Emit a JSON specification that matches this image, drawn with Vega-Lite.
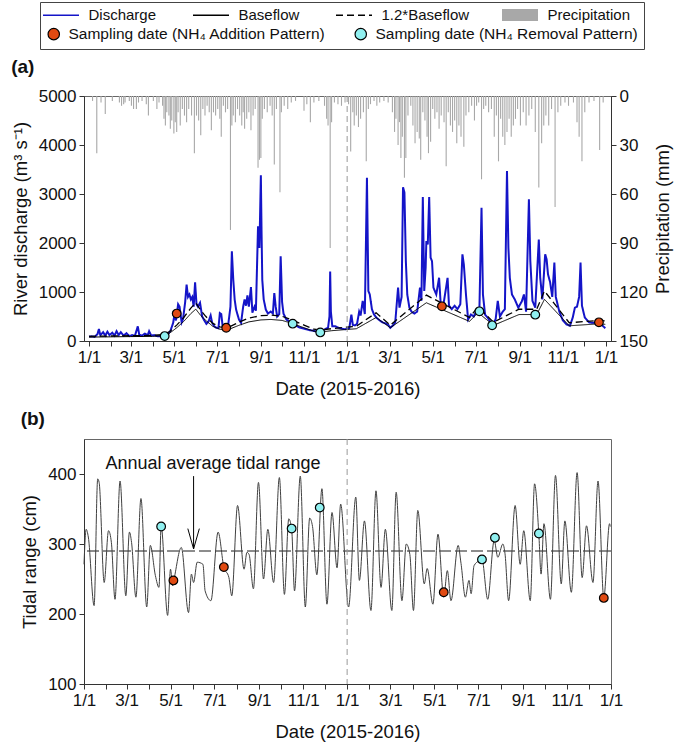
{
  "$schema": "https://vega.github.io/schema/vega-lite/v6.json",
  "padding": {"left": 10, "top": 1, "right": 5, "bottom": 5},
  "spacing": 11,
  "config": {
    "font": "Liberation Sans",
    "view": {"stroke": "#666", "strokeWidth": 1},
    "axis": {"labelFontSize": 17, "titleFontSize": 18.5, "labelColor": "#111", "titleColor": "#111", "domainColor": "#333", "tickColor": "#333", "tickSize": 5, "grid": false, "titleFontWeight": "normal", "labelPadding": 3},
    "title": {"fontSize": 19, "fontWeight": "bold", "color": "#111"}
  },
  "datasets": {
    "q": [
      {"d":"2015-01-01","q":90},{"d":"2015-01-05","q":95},{"d":"2015-01-09","q":85},{"d":"2015-01-13","q":140},{"d":"2015-01-15","q":245},{"d":"2015-01-17","q":120},{"d":"2015-01-21","q":180},{"d":"2015-01-24","q":110},{"d":"2015-01-27","q":190},{"d":"2015-01-30","q":120},
      {"d":"2015-02-03","q":170},{"d":"2015-02-06","q":110},{"d":"2015-02-09","q":200},{"d":"2015-02-12","q":120},{"d":"2015-02-15","q":180},{"d":"2015-02-19","q":110},{"d":"2015-02-23","q":160},{"d":"2015-02-27","q":100},
      {"d":"2015-03-03","q":120},{"d":"2015-03-07","q":110},{"d":"2015-03-11","q":300},{"d":"2015-03-13","q":130},{"d":"2015-03-17","q":110},{"d":"2015-03-21","q":150},{"d":"2015-03-25","q":120},{"d":"2015-03-27","q":200},{"d":"2015-03-30","q":110},
      {"d":"2015-04-03","q":120},{"d":"2015-04-07","q":100},{"d":"2015-04-11","q":95},{"d":"2015-04-15","q":90},{"d":"2015-04-18","q":100},{"d":"2015-04-22","q":130},{"d":"2015-04-26","q":200},{"d":"2015-04-30","q":370},
      {"d":"2015-05-02","q":550},{"d":"2015-05-04","q":420},{"d":"2015-05-07","q":750},{"d":"2015-05-09","q":700},{"d":"2015-05-12","q":380},{"d":"2015-05-14","q":450},{"d":"2015-05-17","q":800},{"d":"2015-05-19","q":1150},{"d":"2015-05-21","q":900},{"d":"2015-05-23","q":950},{"d":"2015-05-25","q":850},{"d":"2015-05-27","q":900},{"d":"2015-05-29","q":700},{"d":"2015-05-31","q":1200},
      {"d":"2015-06-02","q":750},{"d":"2015-06-04","q":700},{"d":"2015-06-07","q":780},{"d":"2015-06-10","q":500},{"d":"2015-06-13","q":420},{"d":"2015-06-16","q":350},{"d":"2015-06-19","q":400},{"d":"2015-06-22","q":520},{"d":"2015-06-24","q":380},{"d":"2015-06-27","q":300},{"d":"2015-06-30","q":270},
      {"d":"2015-07-03","q":260},{"d":"2015-07-05","q":570},{"d":"2015-07-07","q":550},{"d":"2015-07-09","q":300},{"d":"2015-07-12","q":260},{"d":"2015-07-14","q":270},{"d":"2015-07-17","q":350},{"d":"2015-07-20","q":700},{"d":"2015-07-22","q":1830},{"d":"2015-07-24","q":1250},{"d":"2015-07-26","q":840},{"d":"2015-07-28","q":640},
      {"d":"2015-08-01","q":440},{"d":"2015-08-04","q":370},{"d":"2015-08-07","q":700},{"d":"2015-08-09","q":850},{"d":"2015-08-11","q":720},{"d":"2015-08-13","q":930},{"d":"2015-08-15","q":700},{"d":"2015-08-18","q":1100},{"d":"2015-08-20","q":580},{"d":"2015-08-23","q":700},{"d":"2015-08-25","q":620},{"d":"2015-08-28","q":2340},{"d":"2015-08-30","q":1900},
      {"d":"2015-09-01","q":3380},{"d":"2015-09-02","q":2200},{"d":"2015-09-03","q":1250},{"d":"2015-09-05","q":850},{"d":"2015-09-08","q":640},{"d":"2015-09-11","q":560},{"d":"2015-09-15","q":600},{"d":"2015-09-18","q":560},{"d":"2015-09-20","q":980},{"d":"2015-09-22","q":700},{"d":"2015-09-24","q":500},{"d":"2015-09-27","q":550},{"d":"2015-09-29","q":1730},
      {"d":"2015-10-01","q":800},{"d":"2015-10-03","q":560},{"d":"2015-10-07","q":440},{"d":"2015-10-11","q":400},{"d":"2015-10-14","q":370},{"d":"2015-10-17","q":350},{"d":"2015-10-21","q":310},{"d":"2015-10-25","q":280},{"d":"2015-10-30","q":260},
      {"d":"2015-11-04","q":240},{"d":"2015-11-09","q":220},{"d":"2015-11-14","q":210},{"d":"2015-11-19","q":190},{"d":"2015-11-24","q":180},{"d":"2015-11-28","q":220},
      {"d":"2015-12-02","q":250},{"d":"2015-12-05","q":270},{"d":"2015-12-07","q":500},{"d":"2015-12-08","q":1420},{"d":"2015-12-09","q":600},{"d":"2015-12-11","q":300},{"d":"2015-12-15","q":300},{"d":"2015-12-20","q":270},{"d":"2015-12-25","q":250},{"d":"2015-12-29","q":240},
      {"d":"2016-01-01","q":250},{"d":"2016-01-04","q":260},{"d":"2016-01-07","q":540},{"d":"2016-01-09","q":330},{"d":"2016-01-12","q":320},{"d":"2016-01-15","q":350},{"d":"2016-01-18","q":600},{"d":"2016-01-20","q":520},{"d":"2016-01-23","q":820},{"d":"2016-01-26","q":550},{"d":"2016-01-29","q":3330},{"d":"2016-01-31","q":1020},
      {"d":"2016-02-02","q":950},{"d":"2016-02-05","q":650},{"d":"2016-02-08","q":540},{"d":"2016-02-12","q":470},{"d":"2016-02-16","q":420},{"d":"2016-02-20","q":380},{"d":"2016-02-24","q":360},{"d":"2016-02-28","q":330},
      {"d":"2016-03-02","q":270},{"d":"2016-03-06","q":320},{"d":"2016-03-09","q":380},{"d":"2016-03-13","q":1090},{"d":"2016-03-15","q":680},{"d":"2016-03-18","q":900},{"d":"2016-03-20","q":3140},{"d":"2016-03-22","q":3030},{"d":"2016-03-24","q":1630},{"d":"2016-03-26","q":950},{"d":"2016-03-29","q":680},
      {"d":"2016-04-01","q":600},{"d":"2016-04-05","q":560},{"d":"2016-04-09","q":600},{"d":"2016-04-13","q":1090},{"d":"2016-04-15","q":820},{"d":"2016-04-17","q":2940},{"d":"2016-04-19","q":1020},{"d":"2016-04-21","q":1500},{"d":"2016-04-22","q":2040},{"d":"2016-04-24","q":1970},{"d":"2016-04-26","q":2940},{"d":"2016-04-28","q":1700},{"d":"2016-04-30","q":1630},
      {"d":"2016-05-02","q":1090},{"d":"2016-05-06","q":950},{"d":"2016-05-10","q":1290},{"d":"2016-05-12","q":820},{"d":"2016-05-14","q":700},{"d":"2016-05-17","q":820},{"d":"2016-05-22","q":1290},{"d":"2016-05-24","q":720},{"d":"2016-05-28","q":650},
      {"d":"2016-06-01","q":720},{"d":"2016-06-05","q":650},{"d":"2016-06-09","q":750},{"d":"2016-06-12","q":1770},{"d":"2016-06-14","q":1560},{"d":"2016-06-17","q":950},{"d":"2016-06-20","q":440},{"d":"2016-06-24","q":540},{"d":"2016-06-28","q":500},
      {"d":"2016-07-02","q":620},{"d":"2016-07-06","q":650},{"d":"2016-07-09","q":2720},{"d":"2016-07-11","q":950},{"d":"2016-07-14","q":540},{"d":"2016-07-18","q":470},{"d":"2016-07-22","q":380},{"d":"2016-07-26","q":340},{"d":"2016-07-29","q":450},
      {"d":"2016-08-01","q":820},{"d":"2016-08-04","q":500},{"d":"2016-08-08","q":600},{"d":"2016-08-11","q":650},{"d":"2016-08-14","q":3470},{"d":"2016-08-16","q":1900},{"d":"2016-08-18","q":1290},{"d":"2016-08-21","q":950},{"d":"2016-08-25","q":850},{"d":"2016-08-30","q":680},
      {"d":"2016-09-04","q":810},{"d":"2016-09-07","q":950},{"d":"2016-09-10","q":600},{"d":"2016-09-14","q":2890},{"d":"2016-09-16","q":1630},{"d":"2016-09-19","q":820},{"d":"2016-09-23","q":680},{"d":"2016-09-28","q":2070},{"d":"2016-09-30","q":1290},
      {"d":"2016-10-03","q":850},{"d":"2016-10-07","q":1770},{"d":"2016-10-09","q":1670},{"d":"2016-10-11","q":1360},{"d":"2016-10-14","q":1200},{"d":"2016-10-17","q":900},{"d":"2016-10-20","q":1600},{"d":"2016-10-22","q":900},{"d":"2016-10-27","q":600},
      {"d":"2016-11-01","q":420},{"d":"2016-11-06","q":340},{"d":"2016-11-11","q":310},{"d":"2016-11-15","q":480},{"d":"2016-11-18","q":680},{"d":"2016-11-21","q":700},{"d":"2016-11-24","q":900},{"d":"2016-11-26","q":1600},{"d":"2016-11-28","q":720},
      {"d":"2016-12-02","q":480},{"d":"2016-12-08","q":380},{"d":"2016-12-14","q":370},{"d":"2016-12-20","q":380},{"d":"2016-12-26","q":330},{"d":"2016-12-31","q":260}
    ],
    "bf": [
      {"d":"2015-01-01","b":80,"b12":96},{"d":"2015-02-01","b":85,"b12":102},{"d":"2015-03-01","b":90,"b12":108},{"d":"2015-04-01","b":95,"b12":114},{"d":"2015-04-15","b":110,"b12":132},{"d":"2015-04-25","b":160,"b12":192},{"d":"2015-05-05","b":270,"b12":324},{"d":"2015-05-15","b":400,"b12":480},{"d":"2015-05-25","b":560,"b12":672},{"d":"2015-06-01","b":650,"b12":780},{"d":"2015-06-08","b":520,"b12":624},{"d":"2015-06-15","b":420,"b12":504},{"d":"2015-06-25","b":300,"b12":360},{"d":"2015-07-05","b":240,"b12":288},{"d":"2015-07-12","b":230,"b12":276},{"d":"2015-07-20","b":250,"b12":300},{"d":"2015-08-01","b":320,"b12":384},{"d":"2015-08-15","b":390,"b12":468},{"d":"2015-09-01","b":430,"b12":516},{"d":"2015-09-15","b":440,"b12":528},{"d":"2015-10-01","b":420,"b12":504},{"d":"2015-10-15","b":360,"b12":432},{"d":"2015-11-01","b":270,"b12":324},{"d":"2015-11-15","b":200,"b12":240},{"d":"2015-11-25","b":185,"b12":222},{"d":"2015-12-10","b":210,"b12":252},{"d":"2015-12-31","b":235,"b12":282},
      {"d":"2016-01-14","b":250,"b12":300},{"d":"2016-02-11","b":480,"b12":576},{"d":"2016-03-02","b":270,"b12":324},{"d":"2016-04-22","b":780,"b12":936},{"d":"2016-06-22","b":400,"b12":480},{"d":"2016-07-04","b":580,"b12":696},{"d":"2016-07-26","b":320,"b12":384},{"d":"2016-08-31","b":540,"b12":648},{"d":"2016-09-25","b":540,"b12":648},{"d":"2016-10-06","b":850,"b12":1020},{"d":"2016-11-10","b":310,"b12":372},{"d":"2016-12-21","b":350,"b12":420},{"d":"2016-12-31","b":340,"b12":408}
    ],
    "p": [
      {"d":"2015-01-06","p":3},{"d":"2015-01-12","p":35},{"d":"2015-01-18","p":4},{"d":"2015-01-24","p":11},{"d":"2015-02-03","p":3},{"d":"2015-02-13","p":4},{"d":"2015-02-16","p":6},{"d":"2015-02-19","p":5},{"d":"2015-02-21","p":4},{"d":"2015-02-27","p":3},
      {"d":"2015-03-02","p":6},{"d":"2015-03-05","p":8},{"d":"2015-03-09","p":8},{"d":"2015-03-12","p":4},{"d":"2015-03-17","p":3},{"d":"2015-03-23","p":5},{"d":"2015-03-26","p":12},
      {"d":"2015-04-02","p":3},{"d":"2015-04-07","p":8},{"d":"2015-04-10","p":4},{"d":"2015-04-15","p":6},{"d":"2015-04-17","p":14},{"d":"2015-04-19","p":18},{"d":"2015-04-21","p":10},{"d":"2015-04-24","p":12},{"d":"2015-04-26","p":20},{"d":"2015-04-28","p":15},
      {"d":"2015-05-01","p":23},{"d":"2015-05-03","p":16},{"d":"2015-05-05","p":22},{"d":"2015-05-07","p":10},{"d":"2015-05-10","p":18},{"d":"2015-05-13","p":8},{"d":"2015-05-16","p":12},{"d":"2015-05-19","p":16},{"d":"2015-05-22","p":8},{"d":"2015-05-26","p":12},{"d":"2015-05-30","p":35},
      {"d":"2015-06-02","p":12},{"d":"2015-06-05","p":15},{"d":"2015-06-08","p":24},{"d":"2015-06-11","p":8},{"d":"2015-06-14","p":12},{"d":"2015-06-17","p":6},{"d":"2015-06-20","p":10},{"d":"2015-06-23","p":21},{"d":"2015-06-26","p":10},{"d":"2015-06-29","p":12},
      {"d":"2015-07-02","p":8},{"d":"2015-07-05","p":14},{"d":"2015-07-07","p":25},{"d":"2015-07-10","p":6},{"d":"2015-07-13","p":10},{"d":"2015-07-16","p":8},{"d":"2015-07-20","p":82},{"d":"2015-07-22","p":18},{"d":"2015-07-24","p":12},{"d":"2015-07-27","p":16},{"d":"2015-07-30","p":8},
      {"d":"2015-08-02","p":12},{"d":"2015-08-05","p":18},{"d":"2015-08-07","p":10},{"d":"2015-08-09","p":20},{"d":"2015-08-12","p":14},{"d":"2015-08-15","p":10},{"d":"2015-08-18","p":21},{"d":"2015-08-21","p":12},{"d":"2015-08-24","p":8},{"d":"2015-08-28","p":44},{"d":"2015-08-30","p":39},
      {"d":"2015-09-01","p":38},{"d":"2015-09-03","p":14},{"d":"2015-09-06","p":8},{"d":"2015-09-10","p":10},{"d":"2015-09-14","p":6},{"d":"2015-09-17","p":12},{"d":"2015-09-20","p":42},{"d":"2015-09-23","p":8},{"d":"2015-09-28","p":59},{"d":"2015-09-30","p":10},
      {"d":"2015-10-04","p":6},{"d":"2015-10-09","p":8},{"d":"2015-10-14","p":4},{"d":"2015-10-20","p":3},{"d":"2015-11-01","p":9},{"d":"2015-11-05","p":5},{"d":"2015-11-10","p":16},{"d":"2015-11-15","p":4},{"d":"2015-11-22","p":3},{"d":"2015-11-30","p":6},
      {"d":"2015-12-03","p":14},{"d":"2015-12-05","p":18},{"d":"2015-12-08","p":93},{"d":"2015-12-10","p":16},{"d":"2015-12-14","p":4},{"d":"2015-12-19","p":5},{"d":"2015-12-24","p":6},{"d":"2015-12-29","p":4},
      {"d":"2016-01-03","p":5},{"d":"2016-01-06","p":34},{"d":"2016-01-09","p":10},{"d":"2016-01-11","p":18},{"d":"2016-01-14","p":12},{"d":"2016-01-17","p":19},{"d":"2016-01-20","p":14},{"d":"2016-01-24","p":10},{"d":"2016-01-28","p":40},{"d":"2016-01-31","p":8},
      {"d":"2016-02-03","p":5},{"d":"2016-02-08","p":3},{"d":"2016-02-12","p":6},{"d":"2016-02-16","p":4},{"d":"2016-02-22","p":3},{"d":"2016-02-28","p":4},
      {"d":"2016-03-05","p":10},{"d":"2016-03-08","p":22},{"d":"2016-03-10","p":14},{"d":"2016-03-13","p":30},{"d":"2016-03-15","p":16},{"d":"2016-03-17","p":38},{"d":"2016-03-19","p":25},{"d":"2016-03-22","p":50},{"d":"2016-03-24","p":38},{"d":"2016-03-27","p":12},{"d":"2016-03-31","p":6},
      {"d":"2016-04-03","p":18},{"d":"2016-04-06","p":29},{"d":"2016-04-09","p":22},{"d":"2016-04-12","p":26},{"d":"2016-04-14","p":39},{"d":"2016-04-17","p":10},{"d":"2016-04-20","p":15},{"d":"2016-04-23","p":25},{"d":"2016-04-25","p":35},{"d":"2016-04-28","p":28},
      {"d":"2016-05-01","p":8},{"d":"2016-05-04","p":14},{"d":"2016-05-07","p":10},{"d":"2016-05-10","p":20},{"d":"2016-05-13","p":12},{"d":"2016-05-17","p":16},{"d":"2016-05-20","p":43},{"d":"2016-05-23","p":10},{"d":"2016-05-26","p":18},{"d":"2016-05-29","p":22},
      {"d":"2016-06-01","p":15},{"d":"2016-06-04","p":29},{"d":"2016-06-07","p":18},{"d":"2016-06-10","p":25},{"d":"2016-06-14","p":31},{"d":"2016-06-17","p":12},{"d":"2016-06-21","p":10},{"d":"2016-06-25","p":6},{"d":"2016-06-29","p":15},
      {"d":"2016-07-02","p":6},{"d":"2016-07-05","p":4},{"d":"2016-07-09","p":51},{"d":"2016-07-12","p":8},{"d":"2016-07-15","p":6},{"d":"2016-07-19","p":10},{"d":"2016-07-23","p":8},{"d":"2016-07-27","p":25},{"d":"2016-07-30","p":12},
      {"d":"2016-08-02","p":40},{"d":"2016-08-05","p":14},{"d":"2016-08-08","p":25},{"d":"2016-08-11","p":30},{"d":"2016-08-14","p":22},{"d":"2016-08-17","p":14},{"d":"2016-08-20","p":25},{"d":"2016-08-23","p":18},{"d":"2016-08-26","p":14},{"d":"2016-08-29","p":8},
      {"d":"2016-09-02","p":18},{"d":"2016-09-06","p":10},{"d":"2016-09-10","p":18},{"d":"2016-09-14","p":12},{"d":"2016-09-18","p":8},{"d":"2016-09-23","p":22},{"d":"2016-09-28","p":56},
      {"d":"2016-10-02","p":29},{"d":"2016-10-05","p":18},{"d":"2016-10-08","p":12},{"d":"2016-10-12","p":18},{"d":"2016-10-16","p":8},{"d":"2016-10-21","p":68},{"d":"2016-10-25","p":10},{"d":"2016-10-29","p":6},
      {"d":"2016-11-04","p":4},{"d":"2016-11-09","p":6},{"d":"2016-11-16","p":4},{"d":"2016-11-21","p":16},{"d":"2016-11-24","p":25},{"d":"2016-11-28","p":40},
      {"d":"2016-12-02","p":10},{"d":"2016-12-08","p":4},{"d":"2016-12-15","p":3},{"d":"2016-12-23","p":33},{"d":"2016-12-28","p":4}
    ],
    "t": [
      {"d":"2015-01-01","t":271},{"d":"2015-01-04","t":321},{"d":"2015-01-07","t":310},{"d":"2015-01-15","t":212},{"d":"2015-01-20","t":393},{"d":"2015-01-22","t":388},{"d":"2015-01-29","t":245},
      {"d":"2015-02-04","t":319},{"d":"2015-02-08","t":302},{"d":"2015-02-13","t":221},{"d":"2015-02-20","t":390},{"d":"2015-02-28","t":226},
      {"d":"2015-03-05","t":317},{"d":"2015-03-08","t":302},{"d":"2015-03-14","t":224},{"d":"2015-03-21","t":365},{"d":"2015-03-29","t":210},
      {"d":"2015-04-03","t":298},{"d":"2015-04-10","t":255},{"d":"2015-04-15","t":238},{"d":"2015-04-18","t":326},{"d":"2015-04-27","t":198},
      {"d":"2015-05-01","t":264},{"d":"2015-05-04","t":240},{"d":"2015-05-06","t":250},{"d":"2015-05-16","t":295},{"d":"2015-05-26","t":202},{"d":"2015-05-30","t":257},
      {"d":"2015-06-02","t":245},{"d":"2015-06-07","t":274},{"d":"2015-06-15","t":271},{"d":"2015-06-18","t":233},{"d":"2015-06-26","t":219},
      {"d":"2015-07-06","t":317},{"d":"2015-07-14","t":267},{"d":"2015-07-21","t":252},{"d":"2015-07-25","t":226},
      {"d":"2015-08-02","t":355},{"d":"2015-08-11","t":264},{"d":"2015-08-15","t":288},{"d":"2015-08-18","t":285},{"d":"2015-08-24","t":236},{"d":"2015-08-31","t":388},
      {"d":"2015-09-07","t":250},{"d":"2015-09-13","t":321},{"d":"2015-09-21","t":245},{"d":"2015-09-29","t":395},
      {"d":"2015-10-06","t":228},{"d":"2015-10-12","t":336},{"d":"2015-10-16","t":322},{"d":"2015-10-20","t":233},{"d":"2015-10-28","t":397},
      {"d":"2015-11-04","t":210},{"d":"2015-11-10","t":337},{"d":"2015-11-14","t":325},{"d":"2015-11-20","t":256},{"d":"2015-11-27","t":379},
      {"d":"2015-12-04","t":214},{"d":"2015-12-11","t":345},{"d":"2015-12-18","t":266},{"d":"2015-12-23","t":357},
      {"d":"2016-01-03","t":210},{"d":"2016-01-13","t":367},{"d":"2016-01-18","t":248},{"d":"2016-01-25","t":333},
      {"d":"2016-02-03","t":205},{"d":"2016-02-10","t":376},{"d":"2016-02-17","t":238},{"d":"2016-02-23","t":321},
      {"d":"2016-03-03","t":205},{"d":"2016-03-09","t":374},{"d":"2016-03-17","t":219},{"d":"2016-03-23","t":300},{"d":"2016-03-28","t":285},
      {"d":"2016-04-02","t":205},{"d":"2016-04-08","t":348},{"d":"2016-04-17","t":243},{"d":"2016-04-21","t":265},{"d":"2016-04-29","t":214},
      {"d":"2016-05-06","t":314},{"d":"2016-05-14","t":224},{"d":"2016-05-19","t":262},{"d":"2016-05-24","t":219},
      {"d":"2016-06-03","t":298},{"d":"2016-06-07","t":272},{"d":"2016-06-13","t":224},{"d":"2016-06-18","t":248},{"d":"2016-06-21","t":229},{"d":"2016-06-25","t":269},
      {"d":"2016-07-02","t":276},{"d":"2016-07-06","t":278},{"d":"2016-07-14","t":221},{"d":"2016-07-23","t":305},{"d":"2016-07-28","t":281},
      {"d":"2016-08-04","t":300},{"d":"2016-08-07","t":286},{"d":"2016-08-12","t":219},{"d":"2016-08-21","t":355},{"d":"2016-08-28","t":271},
      {"d":"2016-09-02","t":319},{"d":"2016-09-11","t":219},{"d":"2016-09-17","t":386},{"d":"2016-09-23","t":312},{"d":"2016-09-26","t":257},{"d":"2016-09-30","t":329},
      {"d":"2016-10-09","t":221},{"d":"2016-10-16","t":398},{"d":"2016-10-24","t":243},{"d":"2016-10-29","t":333},
      {"d":"2016-11-07","t":231},{"d":"2016-11-15","t":402},{"d":"2016-11-22","t":252},{"d":"2016-11-28","t":326},
      {"d":"2016-12-07","t":245},{"d":"2016-12-14","t":390},{"d":"2016-12-22","t":223},{"d":"2016-12-30","t":329},{"d":"2016-12-31","t":325}
    ],
    "s": [
      {"d":"2015-04-18","type":"Sampling date (NH₄ Removal Pattern)","q":100,"t":325},
      {"d":"2015-05-05","type":"Sampling date (NH₄ Addition Pattern)","q":560,"t":248},
      {"d":"2015-07-14","type":"Sampling date (NH₄ Addition Pattern)","q":270,"t":267},
      {"d":"2015-10-16","type":"Sampling date (NH₄ Removal Pattern)","q":354,"t":322},
      {"d":"2015-11-24","type":"Sampling date (NH₄ Removal Pattern)","q":175,"t":352},
      {"d":"2016-05-14","type":"Sampling date (NH₄ Addition Pattern)","q":708,"t":231},
      {"d":"2016-07-06","type":"Sampling date (NH₄ Removal Pattern)","q":606,"t":278},
      {"d":"2016-07-24","type":"Sampling date (NH₄ Removal Pattern)","q":320,"t":309},
      {"d":"2016-09-23","type":"Sampling date (NH₄ Removal Pattern)","q":537,"t":315},
      {"d":"2016-12-22","type":"Sampling date (NH₄ Addition Pattern)","q":381,"t":223}
    ]
  },
  "vconcat": [
    {
      "width": 527,
      "height": 245,
      "title": {"text": "(a)", "anchor": "start", "frame": "bounds", "offset": 10},
      "layer": [
        {
          "data": {"name": "p"},
          "mark": {"type": "bar", "width": 1.1},
          "encoding": {
            "x": {"field": "d", "type": "temporal", "scale": {"type": "utc", "domain": [{"year": 2015, "month": 1, "date": 1, "utc": true}, {"year": 2017, "month": 1, "date": 1, "utc": true}], "nice": false}, "axis": {"title": "Date (2015-2016)", "tickCount": {"interval": "month", "step": 1}, "labelExpr": "utcmonth(datum.value) % 2 == 0 ? (utcmonth(datum.value) + 1) + '/1' : ''", "labelFlush": false, "labelOverlap": false, "titlePadding": 14}},
            "y": {"field": "p", "type": "quantitative", "scale": {"domain": [0, 150], "reverse": true, "nice": false}, "axis": {"orient": "right", "values": [0, 30, 60, 90, 120, 150], "title": "Precipitation (mm)", "titleAngle": 270, "titleBaseline": "top", "titlePadding": 6}},
            "y2": {"datum": 0},
            "fill": {"datum": "Precipitation", "scale": {"domain": ["Precipitation"], "range": ["#a8a8a8"]},
              "legend": {"orient": "none", "legendX": 428.5, "legendY": -88.5, "direction": "horizontal", "title": null, "symbolType": "M-3.6,-1.2H3.6V1.2H-3.6Z", "symbolSize": 100, "symbolStrokeWidth": 0, "labelFontSize": 15, "labelOffset": 20, "labelColor": "#111", "padding": 0}}
          }
        },
        {
          "layer": [
            {
              "data": {"name": "q"},
              "mark": {"type": "line", "strokeWidth": 2},
              "encoding": {
                "x": {"field": "d", "type": "temporal", "scale": {"type": "utc", "domain": [{"year": 2015, "month": 1, "date": 1, "utc": true}, {"year": 2017, "month": 1, "date": 1, "utc": true}], "nice": false}},
                "y": {"field": "q", "type": "quantitative", "scale": {"domain": [0, 5000], "nice": false}, "axis": {"values": [0, 1000, 2000, 3000, 4000, 5000], "format": "d", "title": "River discharge (m³ s⁻¹)", "titlePadding": 8}},
                "stroke": {"datum": "Discharge", "scale": {"domain": ["Discharge", "Baseflow", "1.2*Baseflow"], "range": ["#1414c8", "#000000", "#000000"]},
                  "legend": {"orient": "none", "legendX": -30.5, "legendY": -88.5, "direction": "horizontal", "title": null, "symbolType": "M-3.6,0H3.6", "symbolSize": 100, "symbolStrokeWidth": 1.6, "labelFontSize": 15, "labelOffset": 20, "labelColor": "#111", "labelLimit": 300, "columnPadding": 33, "padding": 0}},
                "strokeDash": {"datum": "Discharge", "scale": {"domain": ["Discharge", "Baseflow", "1.2*Baseflow"], "range": [[1, 0], [1, 0], [7, 4]]},
                  "legend": {"orient": "none", "legendX": -30.5, "legendY": -88.5, "direction": "horizontal", "title": null, "symbolType": "M-3.6,0H3.6", "symbolSize": 100, "symbolStrokeWidth": 1.6, "labelFontSize": 15, "labelOffset": 20, "labelColor": "#111", "labelLimit": 300, "columnPadding": 33, "padding": 0}}
              }
            },
            {
              "data": {"name": "bf"},
              "mark": {"type": "line", "strokeWidth": 1},
              "encoding": {
                "x": {"field": "d", "type": "temporal", "scale": {"type": "utc", "domain": [{"year": 2015, "month": 1, "date": 1, "utc": true}, {"year": 2017, "month": 1, "date": 1, "utc": true}], "nice": false}},
                "y": {"field": "b", "type": "quantitative", "scale": {"domain": [0, 5000], "nice": false}},
                "stroke": {"datum": "Baseflow", "scale": {"domain": ["Discharge", "Baseflow", "1.2*Baseflow"], "range": ["#1414c8", "#000000", "#000000"]},
                  "legend": {"orient": "none", "legendX": -30.5, "legendY": -88.5, "direction": "horizontal", "title": null, "symbolType": "M-3.6,0H3.6", "symbolSize": 100, "symbolStrokeWidth": 1.6, "labelFontSize": 15, "labelOffset": 20, "labelColor": "#111", "labelLimit": 300, "columnPadding": 33, "padding": 0}},
                "strokeDash": {"datum": "Baseflow", "scale": {"domain": ["Discharge", "Baseflow", "1.2*Baseflow"], "range": [[1, 0], [1, 0], [7, 4]]},
                  "legend": {"orient": "none", "legendX": -30.5, "legendY": -88.5, "direction": "horizontal", "title": null, "symbolType": "M-3.6,0H3.6", "symbolSize": 100, "symbolStrokeWidth": 1.6, "labelFontSize": 15, "labelOffset": 20, "labelColor": "#111", "labelLimit": 300, "columnPadding": 33, "padding": 0}}
              }
            },
            {
              "data": {"name": "bf"},
              "mark": {"type": "line", "strokeWidth": 1.3},
              "encoding": {
                "x": {"field": "d", "type": "temporal", "scale": {"type": "utc", "domain": [{"year": 2015, "month": 1, "date": 1, "utc": true}, {"year": 2017, "month": 1, "date": 1, "utc": true}], "nice": false}},
                "y": {"field": "b12", "type": "quantitative", "scale": {"domain": [0, 5000], "nice": false}},
                "stroke": {"datum": "1.2*Baseflow", "scale": {"domain": ["Discharge", "Baseflow", "1.2*Baseflow"], "range": ["#1414c8", "#000000", "#000000"]},
                  "legend": {"orient": "none", "legendX": -30.5, "legendY": -88.5, "direction": "horizontal", "title": null, "symbolType": "M-3.6,0H3.6", "symbolSize": 100, "symbolStrokeWidth": 1.6, "labelFontSize": 15, "labelOffset": 20, "labelColor": "#111", "labelLimit": 300, "columnPadding": 33, "padding": 0}},
                "strokeDash": {"datum": "1.2*Baseflow", "scale": {"domain": ["Discharge", "Baseflow", "1.2*Baseflow"], "range": [[1, 0], [1, 0], [7, 4]]},
                  "legend": {"orient": "none", "legendX": -30.5, "legendY": -88.5, "direction": "horizontal", "title": null, "symbolType": "M-3.6,0H3.6", "symbolSize": 100, "symbolStrokeWidth": 1.6, "labelFontSize": 15, "labelOffset": 20, "labelColor": "#111", "labelLimit": 300, "columnPadding": 33, "padding": 0}}
              }
            },
            {
              "data": {"values": [{}]},
              "mark": {"type": "rule", "color": "#999999", "strokeDash": [6, 4], "strokeWidth": 1},
              "encoding": {
                "x": {"datum": {"year": 2016, "month": 1, "date": 1, "utc": true}, "type": "temporal", "scale": {"type": "utc", "domain": [{"year": 2015, "month": 1, "date": 1, "utc": true}, {"year": 2017, "month": 1, "date": 1, "utc": true}], "nice": false}}
              }
            },
            {
              "data": {"name": "s"},
              "mark": {"type": "point", "shape": "circle", "filled": true, "size": 75, "stroke": "#000000", "strokeWidth": 1.2, "opacity": 1},
              "encoding": {
                "x": {"field": "d", "type": "temporal", "scale": {"type": "utc", "domain": [{"year": 2015, "month": 1, "date": 1, "utc": true}, {"year": 2017, "month": 1, "date": 1, "utc": true}], "nice": false}},
                "y": {"field": "q", "type": "quantitative", "scale": {"domain": [0, 5000], "nice": false}},
                "color": {"field": "type", "type": "nominal", "scale": {"domain": ["Sampling date (NH₄ Addition Pattern)", "Sampling date (NH₄ Removal Pattern)"], "range": ["#e04a12", "#90f0f0"]},
                  "legend": {"orient": "none", "legendX": -44, "legendY": -94, "direction": "horizontal", "title": " ", "titleFontSize": 15, "titlePadding": 3, "symbolType": "circle", "symbolSize": 130, "symbolStrokeColor": "#000000", "symbolStrokeWidth": 1.2, "labelFontSize": 15.5, "labelOffset": 7, "labelColor": "#111", "labelLimit": 400, "columnPadding": 26, "padding": 6, "strokeColor": "#444"}}
              }
            }
          ]
        }
      ],
      "resolve": {"scale": {"y": "independent"}}
    },
    {
      "width": 527,
      "height": 245,
      "title": {"text": "(b)", "anchor": "start", "frame": "bounds", "offset": 10},
      "layer": [
        {
          "data": {"values": [{}]},
          "mark": {"type": "rule", "color": "#000000", "strokeDash": [12, 4], "strokeWidth": 0.9},
          "encoding": {"y": {"datum": 290, "type": "quantitative", "scale": {"domain": [100, 450], "nice": false}}}
        },
        {
          "data": {"name": "t"},
          "mark": {"type": "line", "color": "#404040", "strokeWidth": 1, "interpolate": "monotone"},
          "encoding": {
            "x": {"field": "d", "type": "temporal", "scale": {"type": "utc", "domain": [{"year": 2015, "month": 1, "date": 1, "utc": true}, {"year": 2017, "month": 1, "date": 1, "utc": true}], "nice": false}, "axis": {"title": "Date (2015-2016)", "tickCount": {"interval": "month", "step": 1}, "labelExpr": "utcmonth(datum.value) % 2 == 0 ? (utcmonth(datum.value) + 1) + '/1' : ''", "labelFlush": false, "labelOverlap": false, "titlePadding": 14}},
            "y": {"field": "t", "type": "quantitative", "scale": {"domain": [100, 450], "nice": false}, "axis": {"values": [100, 150, 200, 250, 300, 350, 400, 450], "title": "Tidal range (cm)", "titlePadding": 8}}
          }
        },
        {
          "data": {"values": [{}]},
          "mark": {"type": "rule", "color": "#999999", "strokeDash": [6, 4], "strokeWidth": 1},
          "encoding": {
            "x": {"datum": {"year": 2016, "month": 1, "date": 1, "utc": true}, "type": "temporal", "scale": {"type": "utc", "domain": [{"year": 2015, "month": 1, "date": 1, "utc": true}, {"year": 2017, "month": 1, "date": 1, "utc": true}], "nice": false}}
          }
        },
        {
          "data": {"values": [{}]},
          "mark": {"type": "rule", "color": "#000000", "strokeWidth": 1},
          "encoding": {
            "x": {"datum": {"year": 2015, "month": 6, "date": 2, "utc": true}, "type": "temporal", "scale": {"type": "utc", "domain": [{"year": 2015, "month": 1, "date": 1, "utc": true}, {"year": 2017, "month": 1, "date": 1, "utc": true}], "nice": false}},
            "y": {"datum": 397, "type": "quantitative", "scale": {"domain": [100, 450], "nice": false}},
            "y2": {"datum": 293}
          }
        },
        {
          "data": {"values": [{}]},
          "mark": {"type": "rule", "color": "#000000", "strokeWidth": 1},
          "encoding": {
            "x": {"datum": {"year": 2015, "month": 5, "date": 25, "utc": true}, "type": "temporal", "scale": {"type": "utc", "domain": [{"year": 2015, "month": 1, "date": 1, "utc": true}, {"year": 2017, "month": 1, "date": 1, "utc": true}], "nice": false}},
            "x2": {"datum": {"year": 2015, "month": 6, "date": 2, "utc": true}},
            "y": {"datum": 322, "type": "quantitative", "scale": {"domain": [100, 450], "nice": false}},
            "y2": {"datum": 293}
          }
        },
        {
          "data": {"values": [{}]},
          "mark": {"type": "rule", "color": "#000000", "strokeWidth": 1},
          "encoding": {
            "x": {"datum": {"year": 2015, "month": 6, "date": 10, "utc": true}, "type": "temporal", "scale": {"type": "utc", "domain": [{"year": 2015, "month": 1, "date": 1, "utc": true}, {"year": 2017, "month": 1, "date": 1, "utc": true}], "nice": false}},
            "x2": {"datum": {"year": 2015, "month": 6, "date": 2, "utc": true}},
            "y": {"datum": 322, "type": "quantitative", "scale": {"domain": [100, 450], "nice": false}},
            "y2": {"datum": 293}
          }
        },
        {
          "data": {"values": [{}]},
          "mark": {"type": "text", "text": "Annual average tidal range", "fontSize": 18, "color": "#111111", "align": "center", "baseline": "middle"},
          "encoding": {
            "x": {"datum": {"year": 2015, "month": 6, "date": 29, "utc": true}, "type": "temporal", "scale": {"type": "utc", "domain": [{"year": 2015, "month": 1, "date": 1, "utc": true}, {"year": 2017, "month": 1, "date": 1, "utc": true}], "nice": false}},
            "y": {"datum": 414, "type": "quantitative", "scale": {"domain": [100, 450], "nice": false}}
          }
        },
        {
          "data": {"name": "s"},
          "transform": [{"filter": "indexof(datum.type, 'Addition') >= 0"}],
          "mark": {"type": "point", "shape": "circle", "filled": true, "size": 75, "fill": "#e04a12", "stroke": "#000000", "strokeWidth": 1.2, "opacity": 1},
          "encoding": {
            "x": {"field": "d", "type": "temporal", "scale": {"type": "utc", "domain": [{"year": 2015, "month": 1, "date": 1, "utc": true}, {"year": 2017, "month": 1, "date": 1, "utc": true}], "nice": false}},
            "y": {"field": "t", "type": "quantitative", "scale": {"domain": [100, 450], "nice": false}}
          }
        },
        {
          "data": {"name": "s"},
          "transform": [{"filter": "indexof(datum.type, 'Removal') >= 0"}],
          "mark": {"type": "point", "shape": "circle", "filled": true, "size": 75, "fill": "#90f0f0", "stroke": "#000000", "strokeWidth": 1.2, "opacity": 1},
          "encoding": {
            "x": {"field": "d", "type": "temporal", "scale": {"type": "utc", "domain": [{"year": 2015, "month": 1, "date": 1, "utc": true}, {"year": 2017, "month": 1, "date": 1, "utc": true}], "nice": false}},
            "y": {"field": "t", "type": "quantitative", "scale": {"domain": [100, 450], "nice": false}}
          }
        }
      ]
    }
  ]
}
